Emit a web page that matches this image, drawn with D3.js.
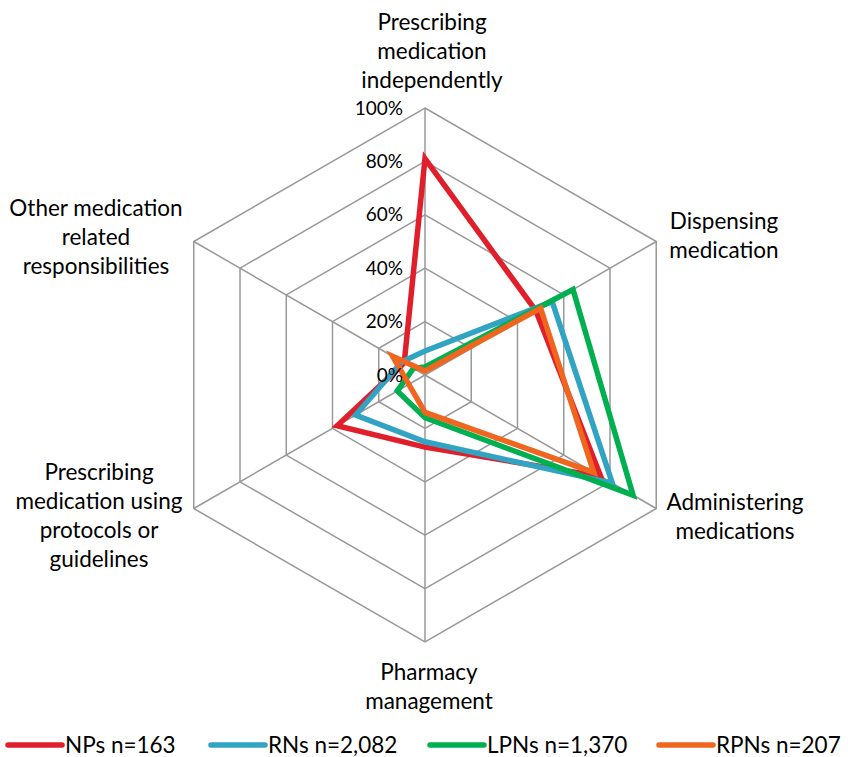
<!DOCTYPE html>
<html>
<head>
<meta charset="utf-8">
<script src="https://cdn.jsdelivr.net/npm/d3@7"></script>
<style>
  body { margin: 0; background: #fff; }
  text { font-family: Lato, "Open Sans", sans-serif; fill: #000; }
</style>
</head>
<body>
<div id="chart"></div>
<script>
// axis labels, one entry per line of text
var axisLabels = [
    ["Prescribing", "medication", "independently"],
    ["Dispensing", "medication"],
    ["Administering", "medications"],
    ["Pharmacy", "management"],
    ["Prescribing", "medication using", "protocols or", "guidelines"],
    ["Other medication", "related", "responsibilities"]
];
var tickValues = [0, 20, 40, 60, 80, 100];
var tickLabels = ["0%", "20%", "40%", "60%", "80%", "100%"];

var seriesNames = ["NPs n=163", "RNs n=2,082", "LPNs n=1,370", "RPNs n=207"];
var npsValues = [81, 48, 76, 27, 38, 9];
var rnsValues = [9, 55, 81, 25, 30, 10];
var lpnsValues = [3, 64, 90, 16, 12, 5];
var rpnsValues = [1.5, 50, 73, 14, 7, 14];
var seriesColors = ["#e01f2b", "#31a4c4", "#00b050", "#f0661f"];

var width = 848, height = 757;
var cx = 425, cy = 375, radius = 267;

var rScale = d3.scaleLinear().domain([0, 100]).range([0, radius]);
var angle = d3.scaleLinear().domain([0, axisLabels.length]).range([0, 2 * Math.PI]);

function px(i, v) { return cx + rScale(v) * Math.sin(angle(i)); }
function py(i, v) { return cy - rScale(v) * Math.cos(angle(i)); }

var svg = d3.select("#chart").append("svg")
    .attr("width", width).attr("height", height);

var g = svg.append("g");

// grid hexagons
tickValues.filter(d => d > 0).forEach(t => {
    var pts = axisLabels.map((d, i) => [px(i, t), py(i, t)]);
    g.append("polygon")
        .attr("points", pts.map(p => p.join(",")).join(" "))
        .attr("fill", "none")
        .attr("stroke", "#999")
        .attr("stroke-width", 1.5);
});

// spokes
axisLabels.forEach((d, i) => {
    g.append("line")
        .attr("x1", cx).attr("y1", cy)
        .attr("x2", px(i, 100)).attr("y2", py(i, 100))
        .attr("stroke", "#999")
        .attr("stroke-width", 1.5);
});

// series lines
var allSeries = [npsValues, rnsValues, lpnsValues, rpnsValues];
var radar = d3.lineRadial()
    .angle((d, i) => angle(i))
    .radius(d => rScale(d))
    .curve(d3.curveLinearClosed);

allSeries.forEach((vals, s) => {
    g.append("path").datum(vals)
        .attr("transform", "translate(" + cx + "," + cy + ")")
        .attr("d", radar)
        .attr("fill", "none")
        .attr("stroke", seriesColors[s])
        .attr("stroke-width", 5.5)
        .attr("stroke-linejoin", "miter");
});

// tick labels
g.selectAll(".tick").data(tickValues).enter().append("text")
    .attr("class", "tick")
    .attr("x", cx - 22)
    .attr("y", d => cy - rScale(d))
    .attr("dy", "0.35em")
    .attr("text-anchor", "end")
    .style("font-size", "19px")
    .text((d, i) => tickLabels[i]);

// axis labels
var labelPos = [
    {x: 432, y: 22}, {x: 724, y: 221}, {x: 735, y: 502},
    {x: 429, y: 672}, {x: 99, y: 472}, {x: 96, y: 208}
];
var lineH = 29;
axisLabels.forEach((lines, i) => {
    var t = g.append("text")
        .attr("text-anchor", "middle")
        .style("font-size", "22.5px");
    lines.forEach((l, k) => {
        t.append("tspan")
            .attr("x", labelPos[i].x)
            .attr("y", labelPos[i].y + k * lineH)
            .attr("dy", "0.35em")
            .text(l);
    });
});

// legend
var legendX = [8, 211, 430, 659];
var legend = svg.append("g").attr("transform", "translate(0,745)");
seriesNames.forEach((name, s) => {
    legend.append("line")
        .attr("x1", legendX[s]).attr("x2", legendX[s] + 54)
        .attr("y1", 0).attr("y2", 0)
        .attr("stroke", seriesColors[s])
        .attr("stroke-width", 5.5)
        .attr("stroke-linecap", "round");
    legend.append("text")
        .attr("x", legendX[s] + 57)
        .attr("y", 0)
        .attr("dy", "0.35em")
        .style("font-size", "22.5px")
        .text(name);
});
</script>
</body>
</html>
